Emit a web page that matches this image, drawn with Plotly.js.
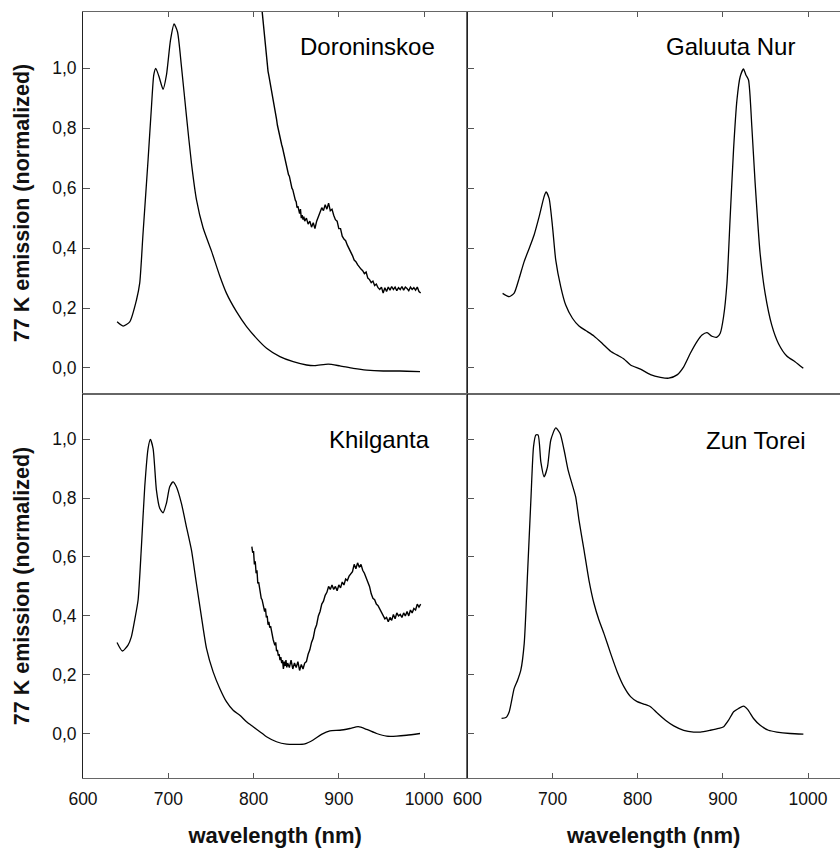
<!DOCTYPE html>
<html>
<head>
<meta charset="utf-8">
<script src="https://cdn.plot.ly/plotly-3.0.1.min.js"></script>
<style>html,body{margin:0;padding:0;background:#fff;}#chart{width:840px;height:848px;}</style>
</head>
<body>
<div id="chart"></div>
<script>
// ---------- data ----------
const panelNames = ["Doroninskoe", "Galuuta Nur", "Khilganta", "Zun Torei"];
const xTickVals = [600, 700, 800, 900, 1000];
const yTickVals = [0, 0.2, 0.4, 0.6, 0.8, 1.0];
const xTitle = "wavelength (nm)";
const yTitle = "77 K emission (normalized)";

// Doroninskoe main spectrum
const doroWl  = [640,647,654.8,662.7,666.5,670.4,676.3,680.3,683,685.3,689.2,693.9,697.9,702.6,706.8,710.8,715.5,721.4,727.2,733.1,740.8,750.7,760.4,768.3,780,791.8,803.5,815.3,830.9,846.5,862.2,872,887.6,901.3,916.9,932.6,952.1,971.7,995.2];
const doroVal = [0.154,0.14,0.154,0.227,0.283,0.449,0.694,0.872,0.978,1.0,0.972,0.93,0.978,1.094,1.148,1.122,1.005,0.839,0.683,0.561,0.468,0.39,0.307,0.249,0.188,0.138,0.099,0.066,0.038,0.021,0.01,0.008,0.013,0.007,-0.001,-0.007,-0.01,-0.01,-0.012];
// Doroninskoe magnified long-wave part
const doroInsWl  = [808,810,812,813,814,815,816,817,818,819,820,821,822,823,824,825,826,827,828,829,830,831,832,833,834,835,836,837,838,839,840,841,842,843,844,845,846,847,848,849,850,851,852,853,854,855,856,857,858,859,860,862,864,866,868,870,872,874,876,878,880,882,884,886,888,890,892,894,896,898,900,902,904,906,908,910,912,914,916,918,920,922,924,926,928,930,932,934,936,938,940,942,944,946,948,950,952,954,956,958,960,962,964,966,968,970,972,974,976,978,980,982,984,986,988,990,992,994,996];
const doroInsVal = [1.25,1.19,1.12,1.09,1.06,1.04,1.005,0.99,0.975,0.96,0.945,0.93,0.905,0.895,0.88,0.86,0.845,0.83,0.81,0.795,0.78,0.772,0.76,0.745,0.735,0.722,0.71,0.695,0.68,0.675,0.66,0.645,0.64,0.625,0.615,0.6,0.595,0.58,0.57,0.56,0.555,0.535,0.54,0.52,0.515,0.53,0.5,0.51,0.495,0.505,0.49,0.5,0.48,0.49,0.47,0.485,0.465,0.49,0.505,0.52,0.535,0.525,0.545,0.53,0.55,0.525,0.53,0.51,0.495,0.49,0.465,0.465,0.44,0.43,0.425,0.41,0.4,0.39,0.375,0.36,0.355,0.345,0.335,0.33,0.325,0.315,0.32,0.3,0.295,0.285,0.29,0.275,0.28,0.268,0.262,0.27,0.25,0.268,0.255,0.27,0.26,0.272,0.262,0.27,0.258,0.268,0.262,0.272,0.26,0.27,0.265,0.258,0.27,0.262,0.268,0.26,0.27,0.255,0.25];

// Galuuta Nur
const galWl  = [641.4,649.2,655,660.9,666.7,672.6,678.4,684.3,690.1,692.5,696,700,703.8,709.7,715.5,723.4,731.1,738.9,748.6,758.5,768.2,776,783.8,791.6,803.3,815,826.7,836.4,846.2,854,861.8,869.6,875.5,881.4,887.2,893.1,896.9,900.8,904.8,908.6,912.5,916.5,920.3,924.2,927,930.1,934,937.9,943.7,949.6,957.4,965.2,975,984.7,994.4];
const galVal = [0.249,0.238,0.25,0.3,0.355,0.399,0.444,0.505,0.572,0.588,0.566,0.472,0.36,0.271,0.21,0.166,0.14,0.125,0.107,0.082,0.056,0.043,0.03,0.01,-0.004,-0.022,-0.031,-0.034,-0.023,0.004,0.049,0.088,0.11,0.118,0.106,0.103,0.116,0.171,0.283,0.505,0.727,0.894,0.972,0.998,0.978,0.961,0.805,0.616,0.383,0.249,0.143,0.082,0.04,0.021,-0.001];

// Khilganta main spectrum
const khiWl  = [639.9,646.2,652.8,656.7,660.6,664.6,668.5,672.4,676.3,679,682.2,686.1,690,693.9,697.8,701.7,705.6,709.5,715.4,721.3,727.2,733,738.9,744.8,752.6,760.4,768.2,776.1,783.9,791.7,799.5,807.4,815.2,826.9,838.7,850.4,860.2,869.9,879.7,889.5,901.3,913,922.8,932.6,944.3,956,967.8,979.5,995.2];
const khiVal = [0.31,0.281,0.301,0.329,0.386,0.454,0.635,0.838,0.968,0.999,0.968,0.827,0.765,0.75,0.782,0.838,0.855,0.838,0.782,0.702,0.623,0.51,0.397,0.29,0.21,0.154,0.109,0.08,0.063,0.041,0.024,0.007,-0.01,-0.027,-0.035,-0.036,-0.034,-0.021,-0.002,0.01,0.012,0.018,0.024,0.015,0.001,-0.008,-0.008,-0.005,0.001];
// Khilganta magnified long-wave part
const khiInsWl  = [798,799,800,801,802,803,804,805,806,807,808,809,810,811,812,813,814,815,816,817,818,819,820,821,822,823,824,825,826,827,828,829,830,831,832,833,834,835,836,837,838,839,840,842,844,846,848,850,852,854,856,858,860,862,864,866,868,870,872,874,876,878,880,882,884,886,888,890,892,894,896,898,900,902,904,906,908,910,912,914,916,918,920,922,924,926,928,930,932,934,936,938,940,942,944,946,948,950,952,954,956,958,960,962,964,966,968,970,972,974,976,978,980,982,984,986,988,990,992,994,996];
const khiInsVal = [0.635,0.615,0.62,0.575,0.585,0.545,0.555,0.51,0.515,0.49,0.475,0.46,0.455,0.44,0.43,0.415,0.425,0.395,0.4,0.37,0.38,0.36,0.365,0.345,0.33,0.32,0.31,0.3,0.31,0.28,0.285,0.265,0.27,0.25,0.26,0.24,0.25,0.22,0.245,0.23,0.25,0.225,0.24,0.225,0.25,0.22,0.24,0.225,0.245,0.215,0.235,0.22,0.24,0.245,0.27,0.285,0.31,0.325,0.355,0.37,0.4,0.415,0.44,0.45,0.47,0.48,0.5,0.49,0.505,0.49,0.5,0.485,0.505,0.495,0.515,0.505,0.525,0.52,0.535,0.545,0.55,0.575,0.56,0.58,0.565,0.575,0.555,0.545,0.53,0.51,0.5,0.475,0.46,0.455,0.44,0.435,0.425,0.41,0.405,0.39,0.395,0.38,0.395,0.385,0.405,0.39,0.41,0.4,0.405,0.395,0.41,0.4,0.415,0.4,0.42,0.41,0.425,0.42,0.44,0.43,0.44];

// Zun Torei
const zunWl  = [640.2,645.3,649.2,655,659,662.8,666.8,670.7,674.6,677.7,680.4,683.1,686.3,690.2,694.1,698,703.8,708.9,713.6,718.3,723.3,727.2,731.1,737,742.8,748.7,754.5,760.4,768.2,776,783.8,791.6,799.4,807.2,815,822.8,832.6,842.3,854,865.7,873.6,885.3,895,900.9,906.7,912.6,918.4,924.3,929,936,943.8,953.5,963.3,978.9,994.5];
const zunVal = [0.052,0.055,0.075,0.154,0.182,0.216,0.307,0.544,0.793,0.974,1.014,1.014,0.923,0.872,0.906,0.997,1.038,1.019,0.963,0.895,0.844,0.804,0.725,0.623,0.521,0.442,0.386,0.34,0.273,0.21,0.16,0.126,0.109,0.101,0.092,0.071,0.046,0.027,0.012,0.006,0.006,0.012,0.018,0.024,0.046,0.075,0.086,0.094,0.083,0.052,0.029,0.012,0.006,0.001,-0.001];

// ---------- chart ----------
const FONT = 'Arial, "Liberation Sans", sans-serif';
const smooth = {color: '#000', width: 1.3, shape: 'spline', smoothing: 0.6};
const noisy = {color: '#000', width: 1.4};

const traces = [
  {x: doroWl, y: doroVal, xaxis: 'x', yaxis: 'y', mode: 'lines', line: smooth},
  {x: doroInsWl, y: doroInsVal, xaxis: 'x', yaxis: 'y', mode: 'lines', line: noisy},
  {x: galWl, y: galVal, xaxis: 'x2', yaxis: 'y2', mode: 'lines', line: smooth},
  {x: khiWl, y: khiVal, xaxis: 'x3', yaxis: 'y3', mode: 'lines', line: smooth},
  {x: khiInsWl, y: khiInsVal, xaxis: 'x3', yaxis: 'y3', mode: 'lines', line: noisy},
  {x: zunWl, y: zunVal, xaxis: 'x4', yaxis: 'y4', mode: 'lines', line: smooth}
];

const xSplit = 0.5077, ySplit = 0.5013;
const topRange = [-0.0868, 1.188], botRange = [-0.150, 1.153];
const leftXRange = [600, 1050.7], rightXRange = [600, 1037.5];

function xAx(domain, range, anchor, isBottom, showTitle) {
  return {
    domain: domain, range: range, anchor: anchor,
    side: isBottom ? 'bottom' : 'top',
    tickmode: 'array', tickvals: xTickVals,
    showticklabels: isBottom,
    ticks: 'inside', ticklen: 5, tickcolor: '#555', tickwidth: 1,
    ticklabelstandoff: 5,
    showline: true, linecolor: '#666', linewidth: 1, mirror: true,
    showgrid: false, zeroline: false,
    tickfont: {family: FONT, size: 17.5, color: '#111'},
    title: showTitle ? {text: '<b>' + xTitle + '</b>', font: {family: FONT, size: 22, color: '#111'}, standoff: 27} : {text: ''}
  };
}
function yAx(domain, range, anchor, isLeft) {
  return {
    domain: domain, range: range, anchor: anchor,
    tickmode: 'array', tickvals: yTickVals, tickformat: '.1f',
    showticklabels: isLeft,
    ticks: 'inside', ticklen: 7, tickcolor: '#555', tickwidth: 1,
    ticklabelstandoff: 2,
    showline: true, linecolor: isLeft ? '#222' : '#666', linewidth: 1, mirror: isLeft,
    showgrid: false, zeroline: false,
    tickfont: {family: FONT, size: 17.5, color: '#111'},
    title: isLeft ? {text: '<b>' + yTitle + '</b>', font: {family: FONT, size: 21.5, color: '#111'}, standoff: 16} : {text: ''}
  };
}

const annFont = {family: FONT, size: 24, color: '#000'};
const layout = {
  width: 840, height: 848,
  margin: {l: 83, r: 0, t: 12, b: 70},
  paper_bgcolor: '#fff', plot_bgcolor: '#fff',
  separators: ', ',
  showlegend: false,
  xaxis:  xAx([0, xSplit], leftXRange, 'y', false, false),
  yaxis:  yAx([ySplit, 1], topRange, 'x', true),
  xaxis2: xAx([xSplit, 1], rightXRange, 'y2', false, false),
  yaxis2: yAx([ySplit, 1], topRange, 'x2', false),
  xaxis3: xAx([0, xSplit], leftXRange, 'y3', true, true),
  yaxis3: yAx([0, ySplit], botRange, 'x3', true),
  xaxis4: xAx([xSplit, 1], rightXRange, 'y4', true, true),
  yaxis4: yAx([0, ySplit], botRange, 'x4', false),
  annotations: [
    {text: panelNames[0], xref: 'x',  yref: 'y',  x: 1015,  y: 1.074, xanchor: 'right', yanchor: 'middle', showarrow: false, font: annFont},
    {text: panelNames[1], xref: 'x2', yref: 'y2', x: 986.7, y: 1.072, xanchor: 'right', yanchor: 'middle', showarrow: false, font: annFont},
    {text: panelNames[2], xref: 'x3', yref: 'y3', x: 1009,  y: 0.997, xanchor: 'right', yanchor: 'middle', showarrow: false, font: annFont},
    {text: panelNames[3], xref: 'x4', yref: 'y4', x: 1000.3, y: 0.994, xanchor: 'right', yanchor: 'middle', showarrow: false, font: annFont}
  ]
};

Plotly.newPlot('chart', traces, layout, {displayModeBar: false, staticPlot: true});
</script>
</body>
</html>
